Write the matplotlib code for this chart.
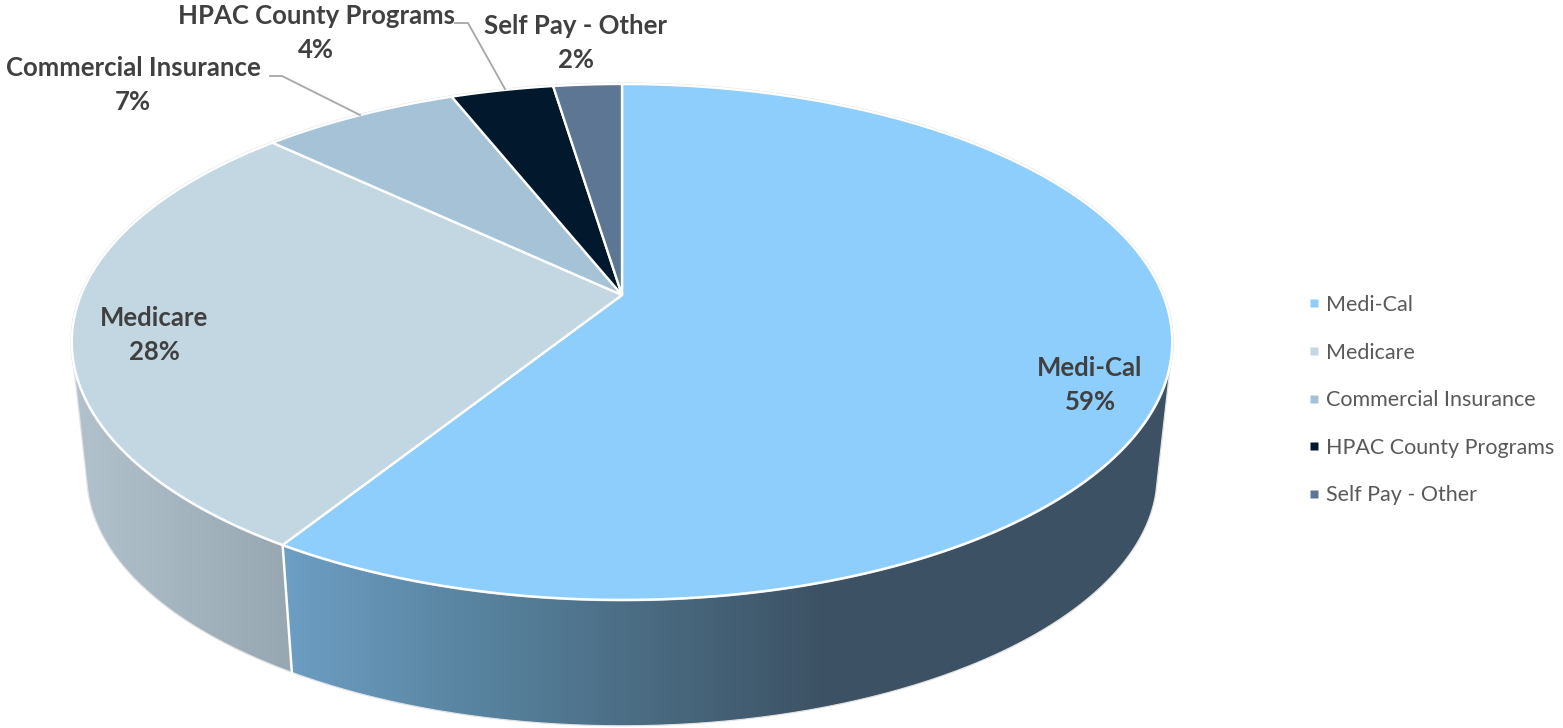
import numpy as np
import matplotlib
matplotlib.use("Agg")
import matplotlib.pyplot as plt
from matplotlib.colors import to_rgb
from matplotlib.lines import Line2D
from matplotlib.patches import PathPatch, Polygon
from matplotlib.path import Path

plt.rcParams['font.family'] = ['Lato', 'DejaVu Sans']

categories = ["Medi-Cal", "Medicare", "Commercial Insurance", "HPAC County Programs", "Self Pay - Other"]
shares = [58.9, 28.15, 6.95, 3.6, 2.4]
slice_colors = ["#8ECEFC", "#C3D7E3", "#A5C2D7", "#02192D", "#5D7693"]

# side wall gradients, stops along x in pixels
medi_side_x = [291, 500, 830]
medi_side_colors = ["#6C9DC2", "#56809B", "#3C5163"]
medicare_side_x = [75, 285]
medicare_side_colors = ["#B2C2CD", "#98A8B2"]

WIDTH, HEIGHT = 1563, 728

# perspective of the pie top, fitted to the picture
CX, APEX_Y = 622, 295
K, A, C = 541, -195.7, 0.182
VP_Y = 5230        # vanishing point of the vertical edges
DEPTH = 0.0272


def top_point(theta):
    # theta is clockwise from 12 o'clock, in radians
    u, v = np.sin(theta), np.cos(theta)
    w = 1 + C * v
    return CX + K * u / w, (A * v + APEX_Y) / w


def bottom_point(theta):
    x, y = top_point(theta)
    return x + (CX - x) * DEPTH, y + (VP_Y - y) * DEPTH


def arc(func, a0, a1, n=200):
    x, y = func(np.linspace(a0, a1, n))
    return np.column_stack([x, y])


def gradient(ax, verts, xs, colors, z):
    rgb = np.array([to_rgb(c) for c in colors])
    px = np.arange(WIDTH) + 0.5
    img = np.stack([np.interp(px, xs, rgb[:, i]) for i in range(3)], axis=-1)[None, :, :]
    im = ax.imshow(img, extent=(0, WIDTH, HEIGHT, 0), aspect='auto', zorder=z, interpolation='nearest')
    clip = PathPatch(Path(verts), transform=ax.transData, facecolor='none', edgecolor='none')
    ax.add_patch(clip)
    im.set_clip_path(clip)


fig = plt.figure(figsize=(WIDTH / 100, HEIGHT / 100), dpi=100)
ax = fig.add_axes([0, 0, 1, 1])

edges = 2 * np.pi * np.cumsum([0] + shares) / sum(shares)

# side walls run between the two silhouette angles, where the edge lines are tangent to the rim
wall_a0 = np.radians(103)
wall_a1 = np.radians(257)
medi_wall = np.vstack([arc(top_point, wall_a0, edges[1]), arc(bottom_point, edges[1], wall_a0)])
medicare_wall = np.vstack([arc(top_point, edges[1], wall_a1), arc(bottom_point, wall_a1, edges[1])])
gradient(ax, medi_wall, medi_side_x, medi_side_colors, 1)
gradient(ax, medicare_wall, medicare_side_x, medicare_side_colors, 1)

# faint rim round the walls
rim = np.vstack([[top_point(wall_a0)], arc(bottom_point, wall_a0, wall_a1, 400), [top_point(wall_a1)]])
ax.plot(rim[:, 0], rim[:, 1], color='#E2E2E2', lw=0.9, zorder=2)
seam = np.array([top_point(edges[1]), bottom_point(edges[1])])
ax.plot(seam[:, 0], seam[:, 1], color='white', lw=1.8, zorder=2)

# top face
apex = (CX, APEX_Y)
rim_top = arc(top_point, 0, 2 * np.pi, 600)
ax.add_patch(Polygon(rim_top, closed=True, facecolor='none', edgecolor='#DADADA', lw=2.1, zorder=3))
for i, color in enumerate(slice_colors):
    verts = np.vstack([[apex], arc(top_point, edges[i], edges[i + 1])])
    ax.add_patch(Polygon(verts, closed=True, facecolor=color, edgecolor='white', lw=1.7,
                         joinstyle='round', zorder=4))

# data labels
label_x = [1090, 154, 133, 316, 576]
label_y = [385, 335, 85, 33, 43]
for name, share, x, y in zip(categories, shares, label_x, label_y):
    ax.text(x, y, f"{name}\n{share:.0f}%", ha='center', va='center', fontsize=18.5, fontweight='bold',
            color='#404040', linespacing=1.47, zorder=6)

# leader lines
ax.plot([270, 282, 360], [76, 76, 115], color='#A6A6A6', lw=1.3, zorder=5)
ax.plot([455, 468, 505], [23, 23, 89], color='#A6A6A6', lw=1.3, zorder=5)

handles = [Line2D([], [], linestyle='none', marker='s', markersize=5.6, markerfacecolor=c,
                  markeredgecolor='none') for c in slice_colors]
ax.legend(handles, categories, loc='upper left', bbox_to_anchor=(1305.5 / WIDTH, 1 - 295 / HEIGHT),
          frameon=False, fontsize=15.5, labelcolor='#595959', handlelength=0.75, handletextpad=0.2,
          labelspacing=1.28, borderpad=0, borderaxespad=0)

ax.set_xlim(0, WIDTH)
ax.set_ylim(HEIGHT, 0)
ax.axis('off')
fig.savefig("out.png", dpi=100, facecolor='white')
